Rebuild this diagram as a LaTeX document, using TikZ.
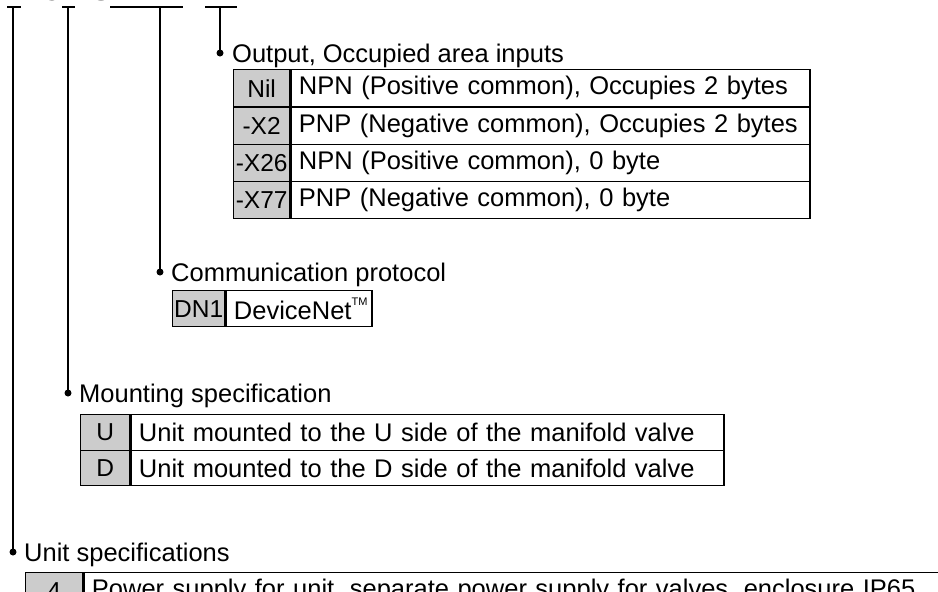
\documentclass[tikz,border=0pt]{standalone}
\usepackage{fontspec}
\setmainfont{Liberation Sans}
\usetikzlibrary{calc}
\definecolor{keygray}{RGB}{204,204,204}
\newcommand{\bigtxt}{\fontsize{25.5}{29}\selectfont}
\newcommand{\keytxt}{\fontsize{24.5}{28}\selectfont}
\tikzset{
  conn/.style={line width=1.3pt, black},
  dotm/.style={circle, fill=black, inner sep=0pt, minimum size=7pt},
  keycell/.style={draw=black, line width=1.3pt, fill=keygray, inner sep=0pt, anchor=north west, font=\keytxt},
  desccell/.style={draw=black, line width=1.3pt, fill=white, inner xsep=8pt, inner ysep=0pt, anchor=north west, align=left, font=\bigtxt},
  head/.style={anchor=base west, inner sep=0pt, font=\bigtxt},
  title/.style={anchor=base, inner sep=0pt, font=\fontsize{32}{36}\selectfont},
}
\begin{document}
\begin{tikzpicture}[x=1pt, y=-1pt]
\useasboundingbox (0,0) rectangle (938,592);
\fill[white] (0,0) rectangle (938,592);
% clipped title fragments
\begin{scope}
\clip (0,0) rectangle (938,592);
\node[title] (t4) at (8,0.8) {4};
\node[title] (tU) at (52,0.8) {U};
\node[title] (tS) at (101,0.8) {S};
\node[title] (tDN) at (147,0.8) {DN1};
\end{scope}
% underline bars and their drop points
\coordinate (b1) at (13,7);
\coordinate (b2) at (68,7);
\coordinate (b3) at (160,7);
\coordinate (b4) at (220,7);
\draw[conn] (7,7) -- (21,7);
\draw[conn] (62,7) -- (75,7);
\draw[conn] (110,7) -- (183,7);
\draw[conn] (205,7) -- (237,7);
% dots
\node[dotm] (d4) at (220,53) {};
\node[dotm] (d3) at (160,272) {};
\node[dotm] (d2) at (68,393) {};
\node[dotm] (d1) at (13,552) {};
\draw[conn] (b4) -- (d4.center);
\draw[conn] (b3) -- (d3.center);
\draw[conn] (b2) -- (d2.center);
\draw[conn] (b1) -- (d1.center);
% headings
\node[head] (h4) at (232,62) {Output, Occupied area inputs};
\node[head] (h3) at (171,281) {Communication protocol};
\node[head] (h2) at (79,402) {Mounting specification};
\node[head] (h1) at (24,561) {Unit specifications};
% table 1
\foreach \k/\txt [count=\i from 0] in {Nil/{NPN (Positive common), Occupies 2 bytes},-X2/{PNP (Negative common), Occupies 2 bytes},-X26/{NPN (Positive common), 0 byte},-X77/{PNP (Negative common), 0 byte}}{
  \node[keycell, minimum width=56pt, minimum height=37.25pt] (oa\i) at (233,69+\i*37.25) {\k};
  \node[desccell, text width=503pt, minimum height=37.25pt] (ob\i) at (oa\i.north east) {\txt};
}
% table 2
\node[keycell, minimum width=52pt, minimum height=36pt] (ca) at (172,290) {DN1};
\node[desccell, text width=130pt, minimum height=36pt] (cb) at (ca.north east) {DeviceNet\raisebox{0.55em}{\fontsize{11}{12}\selectfont TM}};
% table 3
\node[keycell, minimum width=49pt, minimum height=35.5pt] (ma0) at (80,414) {U};
\node[desccell, text width=577pt, minimum height=35.5pt] (mb0) at (ma0.north east) {Unit mounted to the U side of the manifold valve};
\node[keycell, minimum width=49pt, minimum height=35.5pt] (ma1) at (80,449.5) {D};
\node[desccell, text width=577pt, minimum height=35.5pt] (mb1) at (ma1.north east) {Unit mounted to the D side of the manifold valve};
% table 4
\node[keycell, minimum width=57pt, minimum height=36pt] (ua) at (25,572) {4};
\node[desccell, text width=900pt, minimum height=36pt] (ub) at (ua.north east) {Power supply for unit, separate power supply for valves, enclosure IP65};
\end{tikzpicture}
\end{document}
